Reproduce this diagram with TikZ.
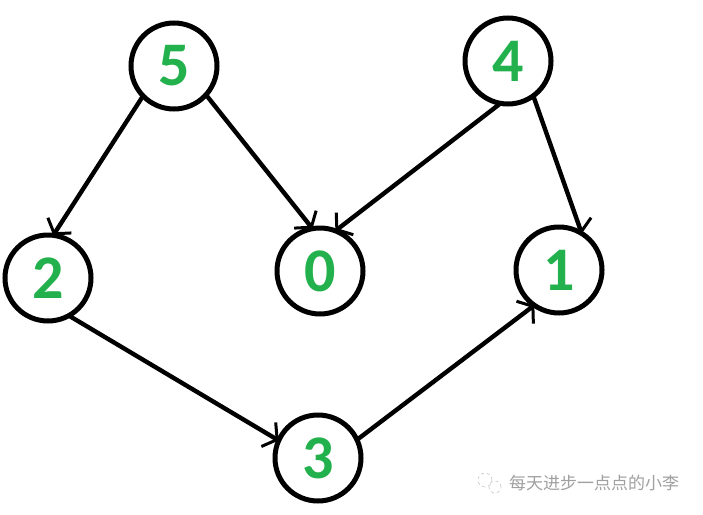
\documentclass[tikz,border=0pt]{standalone}
\usepackage{fontspec}
\setmainfont{Carlito}
\newfontfamily\cjk{Noto Sans CJK SC}
\usetikzlibrary{arrows.meta}
\definecolor{numgreen}{RGB}{34,177,76}
\definecolor{wmgray}{RGB}{160,160,160}
\tikzset{
  vtx/.style={circle, draw=black, line width=5pt, minimum size=86pt, inner sep=0pt, outer sep=0pt,
    text=numgreen, font=\fontsize{62}{62}\selectfont\bfseries},
  edge/.style={line width=4.4pt, -{Straight Barb[length=10pt,width=28pt,line width=3pt]}}
}
\begin{document}
\begin{tikzpicture}[x=1pt,y=-1pt]
\useasboundingbox (0,0) rectangle (703,514);
\fill[white] (0,0) rectangle (703,514);
\node[vtx] (n5) at (174,66) {5};
\node[vtx] (n4) at (508,61) {4};
\node[vtx] (n2) at (48,278) {2};
\node[vtx] (n0) at (320,271) {0};
\node[vtx] (n1) at (559,270) {1};
\node[vtx] (n3) at (318,458) {3};
\draw[edge] (n5.224) -- (n2.83);
\draw[edge] (n5.318) -- (n0.100);
\draw[edge] (n4.260) -- (n0.69);
\draw[edge] (n4.306) -- (n1.58);
\draw[edge] (n2.299) -- (n3.156);
\draw[edge] (n3.25) -- (n1.235);
% watermark
\node[circle, draw=wmgray!60, dashed, line width=0.6pt, minimum size=14pt, inner sep=0pt] (ic1) at (485,480) {};
\node[circle, draw=wmgray!60, dashed, line width=0.6pt, minimum size=12pt, inner sep=0pt] (ic2) at (495,487) {};
\node[anchor=west, text=wmgray, inner sep=0pt, font=\cjk\fontsize{17}{17}\selectfont] (wm) at (509,483) {每天进步一点点的小李};
\end{tikzpicture}
\end{document}
